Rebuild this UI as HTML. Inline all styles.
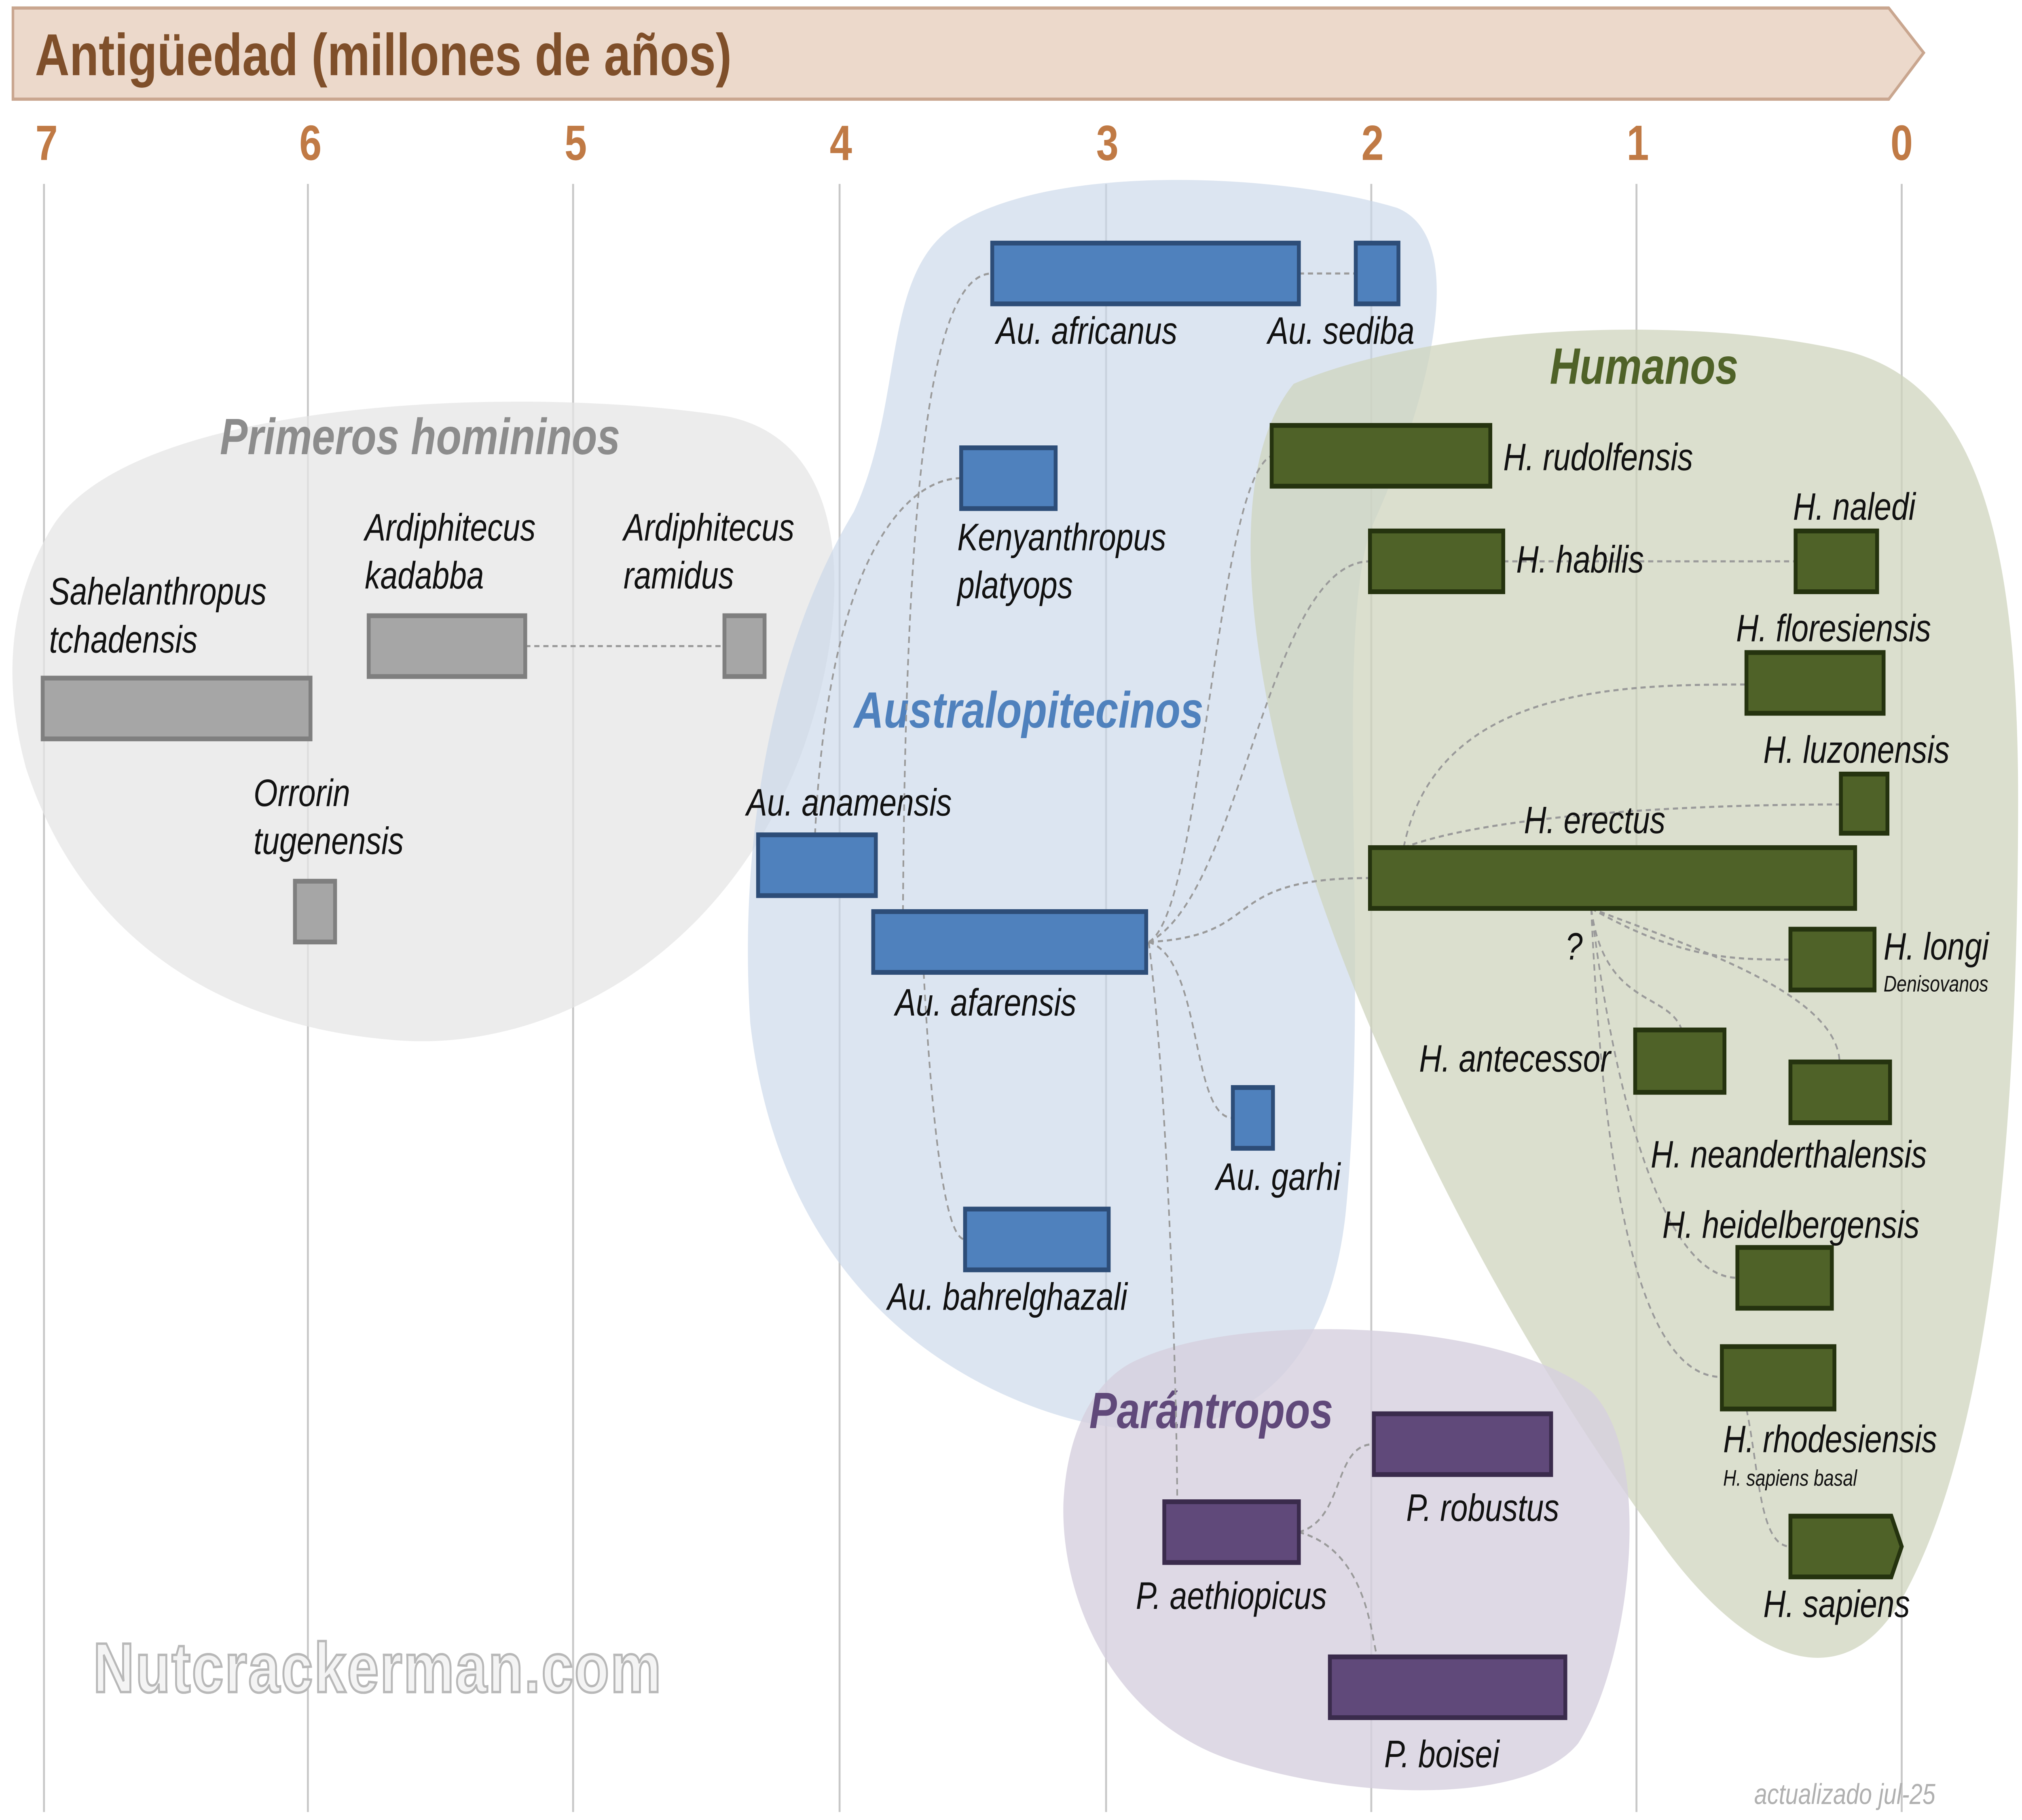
<!DOCTYPE html>
<html><head><meta charset="utf-8"><style>
html,body{margin:0;padding:0;background:#fff;overflow:hidden;width:100%;height:100%;}
svg{display:block;width:100vw;height:100vh;}
text{font-family:"Liberation Sans",sans-serif;}
.l{font-style:italic;font-size:24px;fill:#111;}
.s{font-style:italic;font-size:14px;fill:#111;}
.g{fill:#a6a6a6;stroke:#7f7f7f;stroke-width:3;}
.b{fill:#4f81bd;stroke:#2d4d78;stroke-width:3;}
.h{fill:#4f6228;stroke:#25330f;stroke-width:3;}
.p{fill:#60497a;stroke:#3a2b4c;stroke-width:3;}
.c{fill:none;stroke:#9a9a9a;stroke-width:1.3;stroke-dasharray:4 3;}
.t{font-weight:bold;font-style:italic;font-size:32px;}
.ax{font-weight:bold;font-size:31px;fill:#c07a45;text-anchor:middle;}
</style></head><body>
<svg viewBox="0 0 1563 1138" preserveAspectRatio="none" xmlns="http://www.w3.org/2000/svg">
<rect width="1563" height="1138" fill="#fff"/>
<path d="M10,5 L1460,5 L1487,33 L1460,62 L10,62 Z" fill="#ecd9cb" stroke="#c9a68f" stroke-width="2"/>
<text x="27" y="47" font-weight="bold" font-size="37" fill="#7f4f2a">Antigüedad (millones de años)</text>
<text class="ax" x="36" y="100">7</text><text class="ax" x="240" y="100">6</text><text class="ax" x="445" y="100">5</text><text class="ax" x="650" y="100">4</text><text class="ax" x="856" y="100">3</text><text class="ax" x="1061" y="100">2</text><text class="ax" x="1266" y="100">1</text><text class="ax" x="1470" y="100">0</text>
<g stroke="#c8c8c8" stroke-width="1.5">
<line x1="34" y1="115" x2="34" y2="1133"/><line x1="238" y1="115" x2="238" y2="1133"/><line x1="443" y1="115" x2="443" y2="1133"/><line x1="649" y1="115" x2="649" y2="1133"/><line x1="855" y1="115" x2="855" y2="1133"/><line x1="1060" y1="115" x2="1060" y2="1133"/><line x1="1265" y1="115" x2="1265" y2="1133"/><line x1="1470" y1="115" x2="1470" y2="1133"/>
</g>
<path d="M40,330 C100,250 400,240 560,260 C660,275 660,380 620,470 C560,600 420,660 300,650 C160,640 60,580 20,480 C0,420 10,370 40,330 Z" fill="#e6e6e6" fill-opacity="0.75"/>
<path d="M740,140 C820,100 1000,110 1080,130 C1140,150 1100,260 1060,330 C1030,400 1060,600 1040,760 C1020,900 900,910 800,880 C700,850 600,780 580,640 C570,520 600,400 660,320 C700,250 680,170 740,140 Z" fill="#c9d7ea" fill-opacity="0.65"/>
<path d="M1000,240 C1100,205 1300,195 1430,220 C1520,240 1560,320 1560,500 C1560,700 1540,900 1470,1000 C1420,1070 1340,1030 1280,960 C1180,850 1080,700 1020,560 C970,440 940,300 1000,240 Z" fill="#cfd4bd" fill-opacity="0.75"/>
<path d="M880,850 C960,820 1160,825 1230,870 C1280,910 1260,1040 1220,1090 C1180,1130 1040,1125 950,1100 C860,1075 820,1000 822,940 C825,890 850,860 880,850 Z" fill="#d6d0de" fill-opacity="0.8"/>
<text class="t" x="170" y="284" fill="#8c8c8c">Primeros homininos</text>
<text class="t" x="660" y="455" fill="#4f81bd">Australopitecinos</text>
<text class="t" x="1198" y="240" fill="#4f6228">Humanos</text>
<text class="t" x="842" y="893" fill="#60497a">Parántropos</text>
<path class="c" d="M406,404 L560,404"/>
<path class="c" d="M1004,171 L1048,171"/>
<path class="c" d="M1162,351 L1388,351"/>
<path class="c" d="M630,522 C640,350 700,299 743,299"/>
<path class="c" d="M698,570 C700,300 720,171 767,171"/>
<path class="c" d="M714,608 C720,700 730,775 746,775"/>
<path class="c" d="M888,589 C930,570 940,300 983,285"/>
<path class="c" d="M888,589 C960,560 980,351 1059,351"/>
<path class="c" d="M888,589 C980,585 940,549 1059,549"/>
<path class="c" d="M888,589 C930,600 920,699 953,699"/>
<path class="c" d="M888,589 C905,700 910,900 910,939"/>
<path class="c" d="M1004,958 C1040,950 1030,903 1062,903"/>
<path class="c" d="M1004,958 C1060,970 1060,1030 1065,1036"/>
<path class="c" d="M1085,530 C1110,430 1250,428 1350,428"/>
<path class="c" d="M1085,530 C1150,510 1300,503 1423,503"/>
<path class="c" d="M1230,568 C1300,600 1340,600 1384,600"/>
<path class="c" d="M1230,568 C1240,630 1290,620 1300,644"/>
<path class="c" d="M1230,568 C1300,590 1420,620 1422,664"/>
<path class="c" d="M1230,568 C1250,700 1290,799 1343,799"/>
<path class="c" d="M1230,568 C1240,750 1270,861 1331,861"/>
<path class="c" d="M1350,881 C1360,920 1360,967 1384,967"/>
<rect class="g" x="33" y="424" width="207" height="38"/>
<rect class="g" x="285" y="385" width="121" height="38"/>
<rect class="g" x="560" y="385" width="31" height="38"/>
<rect class="g" x="228" y="551" width="31" height="38"/>
<rect class="b" x="767" y="152" width="237" height="38"/>
<rect class="b" x="1048" y="152" width="33" height="38"/>
<rect class="b" x="743" y="280" width="73" height="38"/>
<rect class="b" x="586" y="522" width="91" height="38"/>
<rect class="b" x="675" y="570" width="211" height="38"/>
<rect class="b" x="953" y="680" width="31" height="38"/>
<rect class="b" x="746" y="756" width="111" height="38"/>
<rect class="h" x="983" y="266" width="169" height="38"/>
<rect class="h" x="1059" y="332" width="103" height="38"/>
<rect class="h" x="1388" y="332" width="63" height="38"/>
<rect class="h" x="1350" y="408" width="106" height="38"/>
<rect class="h" x="1423" y="484" width="36" height="37"/>
<rect class="h" x="1059" y="530" width="375" height="38"/>
<rect class="h" x="1384" y="581" width="65" height="38"/>
<rect class="h" x="1264" y="644" width="69" height="39"/>
<rect class="h" x="1384" y="664" width="77" height="38"/>
<rect class="h" x="1343" y="780" width="73" height="38"/>
<rect class="h" x="1331" y="842" width="87" height="39"/>
<path class="h" d="M1384,948 L1462,948 L1470,967 L1462,986 L1384,986 Z"/>
<rect class="p" x="1062" y="884" width="137" height="38"/>
<rect class="p" x="900" y="939" width="104" height="38"/>
<rect class="p" x="1028" y="1036" width="182" height="38"/>
<text class="l" x="38" y="378">Sahelanthropus</text><text class="l" x="38" y="408">tchadensis</text>
<text class="l" x="282" y="338">Ardiphitecus</text><text class="l" x="282" y="368">kadabba</text>
<text class="l" x="482" y="338">Ardiphitecus</text><text class="l" x="482" y="368">ramidus</text>
<text class="l" x="196" y="504">Orrorin</text><text class="l" x="196" y="534">tugenensis</text>
<text class="l" x="770" y="215">Au. africanus</text>
<text class="l" x="980" y="215">Au. sediba</text>
<text class="l" x="740" y="344">Kenyanthropus</text><text class="l" x="740" y="374">platyops</text>
<text class="l" x="577" y="510">Au. anamensis</text>
<text class="l" x="692" y="635">Au. afarensis</text>
<text class="l" x="940" y="744">Au. garhi</text>
<text class="l" x="686" y="819">Au. bahrelghazali</text>
<text class="l" x="1162" y="294">H. rudolfensis</text>
<text class="l" x="1172" y="358">H. habilis</text>
<text class="l" x="1386" y="325">H. naledi</text>
<text class="l" x="1342" y="401">H. floresiensis</text>
<text class="l" x="1363" y="477">H. luzonensis</text>
<text class="l" x="1178" y="521">H. erectus</text>
<text class="l" x="1456" y="600">H. longi</text>
<text class="s" x="1456" y="620">Denisovanos</text>
<text class="l" x="1210" y="600">?</text>
<text class="l" x="1097" y="670">H. antecessor</text>
<text class="l" x="1276" y="730">H. neanderthalensis</text>
<text class="l" x="1285" y="774">H. heidelbergensis</text>
<text class="l" x="1332" y="908">H. rhodesiensis</text>
<text class="s" x="1332" y="929">H. sapiens basal</text>
<text class="l" x="1363" y="1011">H. sapiens</text>
<text class="l" x="1087" y="951">P. robustus</text>
<text class="l" x="878" y="1006">P. aethiopicus</text>
<text class="l" x="1070" y="1105">P. boisei</text>
<text x="72" y="1058" font-weight="bold" font-size="44" fill="#f4f4f4" stroke="#b8b8b8" stroke-width="1.5" letter-spacing="1">Nutcrackerman.com</text>
<text x="1356" y="1128" font-style="italic" font-size="18" fill="#b0b0b0">actualizado jul-25</text>
</svg>
</body></html>
